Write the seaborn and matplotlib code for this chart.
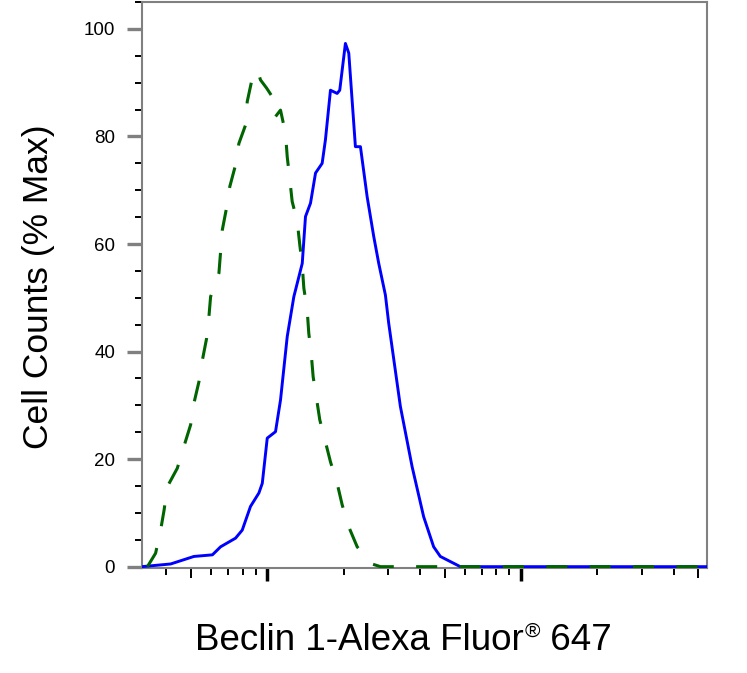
"""
Flow cytometry overlay: Beclin 1-Alexa Fluor 647 staining vs. control.
"""
import numpy as np
import pandas as pd
import seaborn as sns
import matplotlib.pyplot as plt
from matplotlib.ticker import MultipleLocator, LogLocator, NullFormatter

# Stained sample (blue, solid): fluorescence intensity vs. % of max count
stained_x = [320, 416, 514, 608, 655, 750, 797, 859, 927, 956, 1000, 1078, 1128,
             1199, 1273, 1374, 1415, 1481, 1550, 1646, 1696, 1775, 1886, 1931, 2033,
             2096, 2226, 2330, 2476, 2629, 2751, 2923, 3011, 3348, 3724, 4135, 4528,
             4811, 5768, 54150]
stained_y = [0, 0.5, 1.9, 2.2, 3.7, 5.3, 6.8, 11.2, 13.7, 15.5, 23.9, 25.1, 31.0,
             42.8, 50.2, 56.4, 65.1, 67.6, 73.2, 75.0, 79.4, 88.6, 88.0, 88.6, 97.3,
             95.5, 78.1, 78.1, 68.8, 61.4, 56.4, 50.5, 45.3, 29.8, 18.6, 9.3, 3.7,
             1.9, 0, 0]

# Control (green, dashed)
control_x = [337, 363, 380, 392, 404, 442, 469, 499, 514, 538, 555, 577, 589, 598,
             645, 665, 691, 712, 750, 773, 821, 834, 867, 913, 941, 994, 1046, 1078,
             1128, 1180, 1199, 1224, 1254, 1313, 1344, 1374, 1394, 1437, 1458, 1490,
             1517, 1564, 1611, 1696, 1775, 1886, 1974, 2096, 2262, 2551, 2794, 54150]
control_y = [0, 2.5, 6.8, 10.5, 14.9, 18.3, 22.3, 26.4, 30.4, 34.4, 38.4, 42.5, 46.5,
             50.2, 54.6, 62.6, 66.7, 70.7, 74.7, 78.7, 82.1, 86.5, 90.2, 92.4, 90.5,
             89.0, 87.4, 83.7, 84.9, 80.6, 76.2, 72.5, 67.9, 64.2, 59.8, 56.1, 51.8,
             47.7, 43.4, 39.7, 35.3, 31.3, 27.3, 23.2, 19.5, 15.5, 11.5, 7.4, 3.7,
             0.6, 0, 0]

X_LIMITS = (320, 54150)
Y_LIMITS = (-0.25, 105)
GREY = '#808080'

sns.set_style('white')
plt.rcParams['font.family'] = ['Liberation Sans', 'DejaVu Sans']
plt.rcParams['text.color'] = 'black'

fig = plt.figure(figsize=(7.47, 6.73), dpi=100)
ax = fig.add_axes([0.1897, 0.156, 0.7568, 0.841])
ax.set_xscale('log')

stained = pd.DataFrame({'intensity': stained_x, 'pct': stained_y})
control = pd.DataFrame({'intensity': control_x, 'pct': control_y})

sns.lineplot(data=stained, x='intensity', y='pct', ax=ax, color='#0000ff',
             linewidth=2.1, estimator=None, sort=False, zorder=3)
sns.lineplot(data=control, x='intensity', y='pct', ax=ax, color='#006400',
             linewidth=2.2, linestyle=(0, (6.9, 7.3)), estimator=None,
             sort=False, zorder=4)

ax.set_xlim(*X_LIMITS)
ax.set_ylim(*Y_LIMITS)
ax.set_xlabel('')
ax.set_ylabel('')

for side in ['left', 'right', 'top', 'bottom']:
    ax.spines[side].set_visible(True)
    ax.spines[side].set_color(GREY)
    ax.spines[side].set_linewidth(1.5)

# y axis: grey major ticks every 20, short black minors every 5
ax.yaxis.set_major_locator(MultipleLocator(20))
ax.yaxis.set_minor_locator(MultipleLocator(5))
ax.tick_params(axis='y', which='major', direction='out', length=10.8, width=2.4,
               color=GREY, labelcolor='black', labelsize=13.5, pad=8.4, left=True)
ax.tick_params(axis='y', which='minor', direction='out', length=5.4, width=1.4,
               color='black', left=True)

# x axis: log decades, no labels
ax.xaxis.set_major_locator(LogLocator(base=10))
ax.xaxis.set_minor_locator(LogLocator(base=10, subs=np.arange(2, 10)))
ax.xaxis.set_major_formatter(NullFormatter())
ax.xaxis.set_minor_formatter(NullFormatter())
ax.tick_params(axis='x', which='major', direction='out', length=9.6, width=2.5,
               color='black', bottom=True)
ax.tick_params(axis='x', which='minor', direction='out', length=5.2, width=1.4,
               color='black', bottom=True)

# the 5x minor ticks are a bit longer
locs = ax.xaxis.get_minorticklocs()
for loc, tick in zip(locs, ax.xaxis.get_minor_ticks(len(locs))):
    mant = loc / 10 ** np.floor(np.log10(loc) + 1e-9)
    if np.isclose(mant, 5):
        tick.tick1line.set_markersize(7.4)

# axis titles
fig.text(0.0515, 0.5743, 'Cell Counts (% Max)', rotation=90, fontsize=25.5,
         ha='center', va='center')
t1 = fig.text(0.261, 0.0342, 'Beclin 1-Alexa Fluor', fontsize=26.5,
              ha='left', va='baseline')
t2 = ax.annotate('®', xy=(1, 0), xycoords=t1, xytext=(1, 21),
                 textcoords='offset pixels', fontsize=15, ha='left',
                 va='baseline', annotation_clip=False)
ax.annotate(' 647', xy=(1, 0), xycoords=(t2, t1), fontsize=26.5, ha='left',
            va='bottom', annotation_clip=False)

plt.savefig('out.png', dpi=100)
